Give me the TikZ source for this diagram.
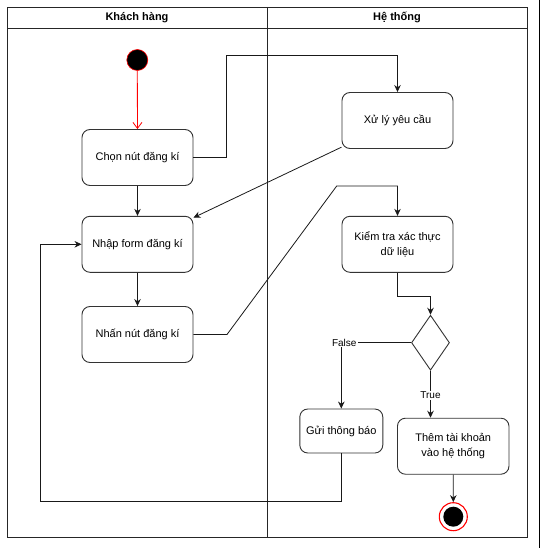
\documentclass[tikz,border=0pt]{standalone}
\usepackage{fontspec}
\setmainfont{Liberation Sans}
\usetikzlibrary{arrows.meta,shapes.geometric}
\begin{document}
\begin{tikzpicture}[x=1pt,y=-1pt,
  act/.style={draw=black!80, line width=0.9pt, rounded corners=8pt, fill=white,
    align=center, inner sep=0pt, font=\fontsize{11}{15}\selectfont},
  dec/.style={draw=black!80, line width=0.9pt, diamond, fill=white, inner sep=0pt,
    minimum width=38pt, minimum height=55pt, aspect=0.7},
  flow/.style={draw=black!90, line width=0.8pt, -{Stealth[length=7pt,width=6.5pt]}},
  lbl/.style={fill=white, inner sep=1pt, font=\fontsize{10}{12}\selectfont},
  lanehead/.style={font=\bfseries\fontsize{11}{13}\selectfont},
  frame/.style={draw=black!85, line width=0.9pt}]

\useasboundingbox (0,0) rectangle (541,548);

% swimlane frame
\draw[frame] (7,7) rectangle (527,537);
\draw[frame] (7,28.3) -- (527,28.3);
\draw[frame] (267,7) -- (267,537);
\draw[black, line width=1.4pt] (539.6,0) -- (539.6,548);
\node[lanehead] (laneA) at (137,17.5) {Khách hàng};
\node[lanehead] (laneB) at (397,17.5) {Hệ thống};

% activities
\node[circle, fill=black, draw=red, line width=0.6pt, minimum size=21pt, inner sep=0pt] (start) at (137.3,60) {};
\node[act, minimum width=111pt, minimum height=56pt] (chon) at (137.5,157.5) {Chọn nút đăng kí};
\node[act, minimum width=111pt, minimum height=56pt] (nhap) at (137.5,244.3) {Nhập form đăng kí};
\node[act, minimum width=111pt, minimum height=56pt] (nhan) at (137.5,334.5) {Nhấn nút đăng kí};
\node[act, minimum width=111pt, minimum height=56pt] (xuly) at (397.5,120.5) {Xử lý yêu cầu};
\node[act, minimum width=111pt, minimum height=56pt] (kiemtra) at (397.5,244.3) {Kiểm tra xác thực\\dữ liệu};
\node[dec] (dec) at (430.5,342.7) {};
\node[act, minimum width=83pt, minimum height=44pt] (gui) at (341.3,431) {Gửi thông báo};
\node[act, minimum width=111.5pt, minimum height=56pt] (them) at (453.2,446.2) {Thêm tài khoản\\vào hệ thống};
\node[circle, fill=white, draw=red, line width=1.1pt, minimum size=28pt, inner sep=0pt] (end) at (453.3,516.7) {};
\node[circle, fill=black, minimum size=20pt, inner sep=0pt] (endc) at (end.center) {};

% control flow
\draw[flow, draw=red, -{Straight Barb[length=6pt,width=9pt]}] (start) -- (chon);
\draw[flow] (chon) -- (nhap);
\draw[flow] (nhap) -- (nhan);
\draw[flow] (chon.east) -| (226,55) -| (xuly.north);
\draw[flow] (xuly) -- (nhap);
\draw[flow] (nhan.east) -- (227,334.5) -- (336.7,186) -| (kiemtra.north);
\draw[flow] (kiemtra.south) |- (430.5,296.7) -- (dec.north);
\draw[flow] (dec.west) -| node[lbl, pos=0.5, xshift=3pt] {False} (gui.north);
\draw[flow] (dec.south) -- node[lbl, pos=0.52] {True} (dec.south |- them.north);
\draw[flow] (them) -- (end);
\draw[flow] (gui.south) |- (40.7,501.7) |- (nhap.west);

\end{tikzpicture}
\end{document}
